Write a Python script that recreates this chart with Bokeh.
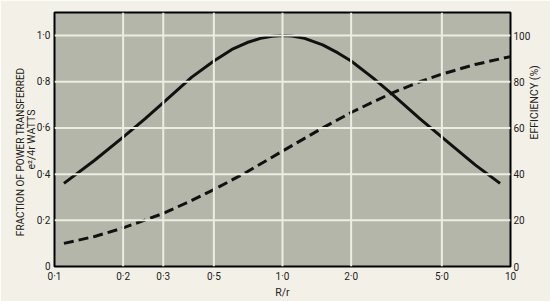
import math
from bokeh.plotting import figure
from bokeh.models import FixedTicker, LinearAxis, LogAxis, Range1d, Span
from bokeh.embed import file_html
from bokeh.resources import INLINE

# ---- data ----
ratio_power = [0.11, 0.15, 0.2, 0.25, 0.3, 0.4, 0.5, 0.6, 0.7, 0.8, 0.9, 1.0,
               1.1, 1.25, 1.5, 1.75, 2.0, 2.5, 3.0, 4.0, 5.0, 7.0, 9.0]
power_frac = [0.36, 0.46, 0.56, 0.64, 0.71, 0.82, 0.89, 0.94, 0.97, 0.988, 0.997, 1.0,
              0.998, 0.988, 0.96, 0.925, 0.89, 0.816, 0.75, 0.64, 0.56, 0.44, 0.36]

ratio_eff = [0.11, 0.15, 0.2, 0.3, 0.4, 0.5, 0.7, 1.0, 1.5, 2.0, 3.0, 4.0, 5.0, 7.0, 10.0]
efficiency = [10, 13, 16.7, 23, 28.6, 33.3, 41, 50, 60, 66.7, 75, 80, 83.3, 87.5, 90.9]

x_ticks = [0.1, 0.2, 0.3, 0.5, 1.0, 2.0, 5.0, 10.0]
x_tick_labels = ["0·1", "0·2", "0·3", "0·5", "1·0", "2·0", "5·0", "10"]
y_ticks = [0, 0.2, 0.4, 0.6, 0.8, 1.0]
y_tick_labels = ["0", "0·2", "0·4", "0·6", "0·8", "1·0"]
eff_ticks = [0, 20, 40, 60, 80, 100]
eff_tick_labels = ["0", "20", "40", "60", "80", "100"]

# ---- geometry / style ----
W, H = 550, 301
FL, FR, FT, FB = 54, 515, 12, 268
FONT = "Roboto"
BG = "#f3f1e7"
PLOT_BG = "#b4b6a9"
GRID = "#eceee4"
INK = "#222222"
NB = "\u00a0"

p = figure(width=W, height=H, x_axis_type="log", x_range=Range1d(0.1, 10),
           y_range=Range1d(0, 1.1), output_backend="svg", toolbar_location=None,
           min_border_left=FL, min_border_right=W - FR, min_border_top=FT,
           min_border_bottom=H - FB, background_fill_color=PLOT_BG,
           border_fill_color=BG)
p.extra_y_ranges = {"eff": Range1d(0, 110)}
p.outline_line_color = "black"
p.outline_line_width = 2
p.axis.visible = False
p.grid.visible = False

for xv in x_ticks[1:-1]:
    p.add_layout(Span(location=xv, dimension="height", line_color=GRID, line_width=2))
for yv in y_ticks[1:]:
    p.add_layout(Span(location=yv, dimension="width", line_color=GRID, line_width=2))

def style(ax, size="10px"):
    ax.axis_line_color = None
    ax.major_tick_line_color = None
    ax.minor_tick_line_color = None
    ax.major_tick_out = 0
    ax.major_tick_in = 0
    ax.minor_tick_out = 0
    ax.minor_tick_in = 0
    ax.major_label_text_font = FONT
    ax.major_label_text_font_size = size
    ax.major_label_text_color = INK
    ax.axis_label_text_font = FONT
    ax.axis_label_text_font_style = "normal"
    ax.axis_label_text_font_size = "10.5px"
    ax.axis_label_text_color = INK

bx = LogAxis(ticker=FixedTicker(ticks=x_ticks),
             major_label_overrides={t: l for t, l in zip(x_ticks, x_tick_labels)})
style(bx)
bx.major_label_standoff = 4
bx.axis_label = "R/r"
bx.axis_label_standoff = 1
p.add_layout(bx, "below")

ly = LinearAxis(ticker=FixedTicker(ticks=y_ticks),
                major_label_overrides={t: l for t, l in zip(y_ticks, y_tick_labels)})
style(ly)
ly.major_label_standoff = 4
ly.axis_label = "e²/4r WATTS"
ly.axis_label_standoff = -4
p.add_layout(ly, "left")

ly2 = LinearAxis(ticker=FixedTicker(ticks=[]))
style(ly2)
ly2.major_label_text_font_size = "0px"
ly2.axis_label_text_font_size = "10px"
ly2.axis_label = "FRACTION OF POWER TRANSFERRED" + NB * 10
ly2.axis_label_standoff = -4
p.add_layout(ly2, "left")

ry = LinearAxis(y_range_name="eff", ticker=FixedTicker(ticks=eff_ticks),
                major_label_overrides={t: l for t, l in zip(eff_ticks, eff_tick_labels)})
style(ry)
ry.major_label_standoff = 3
ry.axis_label = "EFFICIENCY (%)" + NB * 4
ry.axis_label_standoff = 1
ry.axis_label_orientation = math.pi / 2
p.add_layout(ry, "right")

p.line(ratio_power, power_frac, line_color="#111111", line_width=3)
p.line(ratio_eff, efficiency, y_range_name="eff", line_color="#111111",
       line_width=3, line_dash="10 5")

open("out.html", "w").write(file_html(p, INLINE))
